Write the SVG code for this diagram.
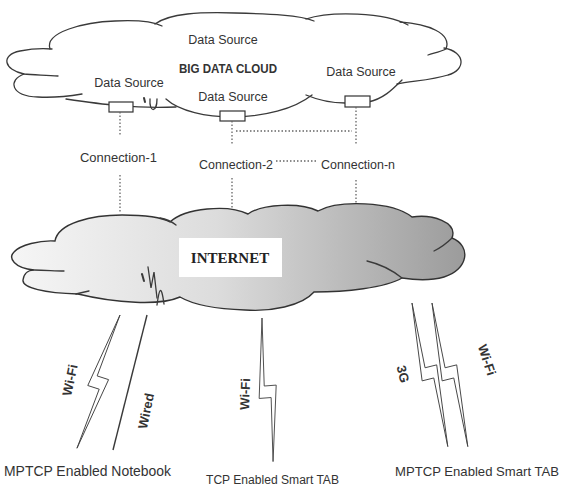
<svg xmlns="http://www.w3.org/2000/svg" width="565" height="488" viewBox="0 0 565 488">
<style>
.cl{fill:none;stroke:#3a3a3a;stroke-width:1.3;stroke-linecap:round}
.ds{fill:#fff;stroke:#333;stroke-width:1.2}
.dot{fill:none;stroke:#666;stroke-width:1.3;stroke-dasharray:1.5 2}
.t{font-family:"Liberation Sans",Arial,sans-serif;fill:#333}
.b{font-weight:bold}
.bolt{fill:#fff;stroke:#444;stroke-width:0.9;stroke-linejoin:miter}
.ln{fill:none;stroke:#3a3a3a;stroke-width:1.4}
</style>
<defs>
<linearGradient id="g" gradientUnits="userSpaceOnUse" x1="10" y1="0" x2="470" y2="0">
<stop offset="0" stop-color="#f6f6f6"/>
<stop offset="0.45" stop-color="#dcdcdc"/>
<stop offset="1" stop-color="#9a9a9a"/>
</linearGradient>
</defs>
<rect width="565" height="488" fill="#fff"/>

<g id="bigdatacloud">
<path class="cl" d="M58,76 C45,75 33,75 24,74 C4,70 0,55 20,51 C30,49 42,48 52,49"/>
<path class="cl" d="M50,49 C44,32 85,22 115,21 C135,20 152,21 162,26"/>
<path class="cl" d="M155,24 C170,13 200,12 235,13 C270,14 300,15 314,21"/>
<path class="cl" d="M306,19 C330,11 385,12 408,25"/>
<path class="cl" d="M400,22 C428,24 452,33 446,49 C440,52 434,53 428,55"/>
<path class="cl" d="M444,48 C466,52 466,70 448,75 C432,80 412,81 397,84"/>
<path class="cl" d="M402,80 C392,90 383,99 368,102 L345,103 C330,103 318,100 306,95"/>
<path class="cl" d="M312,95 C275,124 192,123 166,99"/>
<path class="cl" d="M24,74 C8,80 10,96 38,97 C55,98 70,96 82,94"/>
<path class="cl" d="M66,99 C100,104 135,109 176,107"/>
<path class="cl" d="M144,98 L145,102" style="stroke-width:2"/>
<path class="cl" d="M150,99 C149,113 157,113 157,99"/>
<text class="t" x="223" y="44" font-size="12.5" text-anchor="middle">Data Source</text>
<text class="t b" x="179" y="73" font-size="13" textLength="98" lengthAdjust="spacingAndGlyphs">BIG DATA CLOUD</text>
</g>

<g id="ds1">
<rect class="ds" x="109" y="102" width="24" height="10"/>
<text class="t" x="129" y="87" font-size="12.5" text-anchor="middle">Data Source</text>
</g>
<g id="ds2">
<rect class="ds" x="220" y="111" width="25" height="10"/>
<text class="t" x="233" y="101" font-size="12.5" text-anchor="middle">Data Source</text>
</g>
<g id="ds3">
<rect class="ds" x="345" y="96" width="25" height="11"/>
<text class="t" x="361" y="76" font-size="12.5" text-anchor="middle">Data Source</text>
</g>

<g id="connectors">
<path class="dot" d="M120,112 V135 M120,175 V212"/>
<path class="dot" d="M232,121 V145 M232,178 V209"/>
<path class="dot" d="M356,107 V145 M356,180 V204"/>
<path class="dot" d="M236,131 H352"/>
<path class="dot" d="M276,161 H318"/>
<text class="t" x="80" y="162" font-size="13.5" textLength="77" lengthAdjust="spacingAndGlyphs">Connection-1</text>
<text class="t" x="199" y="169" font-size="13.5" textLength="74" lengthAdjust="spacingAndGlyphs">Connection-2</text>
<text class="t" x="321" y="169" font-size="13.5" textLength="74" lengthAdjust="spacingAndGlyphs">Connection-n</text>
</g>

<g id="internet">
<path d="M55,241 C58,223 92,215 122,215 C145,215 163,218 170,222 C185,208 228,204 248,214 C262,204 300,202 318,211 C338,200 392,201 412,217 C432,214 458,222 452,238 C472,246 468,270 444,277 C430,281 415,280 402,278 C385,288 345,292 314,292 C302,306 270,312 245,310 C215,309 192,304 180,297 C160,306 115,303 78,294 C45,293 22,288 23,280 C24,272 30,270 34,270 C14,268 8,258 14,252 C20,245 40,240 55,241 Z" fill="url(#g)" stroke="#333" stroke-width="1.4"/>
<path class="cl" d="M160,218 C166,219 171,221 176,225"/>
<path class="cl" d="M452,238 C446,244 440,248 434,251"/>
<path class="cl" d="M402,278 C392,270 380,264 367,261"/>
<path class="cl" d="M34,270 C45,270 55,271 64,271"/>
<path class="cl" d="M76,294 C80,293 84,292 89,291"/>
<path class="cl" d="M142,274 L144,281" style="stroke-width:2"/>
<path class="cl" d="M148,267 L151,288 L154,272 L157,298"/>
<path class="cl" d="M157,305 C159,290 161,282 164,304"/>
<rect x="179" y="238" width="103" height="39" fill="#fff"/>
<text x="230" y="263" font-family="'Liberation Serif','Times New Roman',serif" font-weight="bold" font-size="15" fill="#222" text-anchor="middle">INTERNET</text>
</g>

<g id="notebook">
<g transform="translate(120,315) rotate(17.9)"><polygon class="bolt" points="0,0 -9,77 3,77 0,140 9,65 -3,65"/></g>
<line class="ln" x1="147" y1="315" x2="113" y2="450"/>
<text class="t b" font-size="13" text-anchor="middle" dominant-baseline="central" transform="translate(70,380) rotate(-78)">Wi-Fi</text>
<text class="t b" font-size="13" text-anchor="middle" dominant-baseline="central" transform="translate(146,411) rotate(-78)">Wired</text>
<text class="t" x="4" y="476" font-size="14" textLength="167" lengthAdjust="spacingAndGlyphs">MPTCP Enabled Notebook</text>
</g>

<g id="tcptab">
<g transform="translate(262,318) rotate(-4.4)"><polygon class="bolt" points="0,0 -9,80 3,80 0,144 9,68 -3,68"/></g>
<text class="t b" font-size="13" text-anchor="middle" dominant-baseline="central" transform="translate(245,394) rotate(-88)">Wi-Fi</text>
<text class="t" x="206" y="484" font-size="12" textLength="133" lengthAdjust="spacingAndGlyphs">TCP Enabled Smart TAB</text>
</g>

<g id="mptcptab">
<g transform="translate(412,303) rotate(-14)"><polygon class="bolt" points="0,0 -9,78 3,78 0,148 9,66 -3,66"/></g>
<g transform="translate(432,303) rotate(-14)"><polygon class="bolt" points="0,0 -9,78 3,78 0,148 9,66 -3,66"/></g>
<text class="t b" font-size="13" text-anchor="middle" dominant-baseline="central" transform="translate(403,374) rotate(76)">3G</text>
<text class="t b" font-size="13" text-anchor="middle" dominant-baseline="central" transform="translate(487,360) rotate(72)">Wi-Fi</text>
<text class="t" x="395" y="476" font-size="13" textLength="164" lengthAdjust="spacingAndGlyphs">MPTCP Enabled Smart TAB</text>
</g>
</svg>
